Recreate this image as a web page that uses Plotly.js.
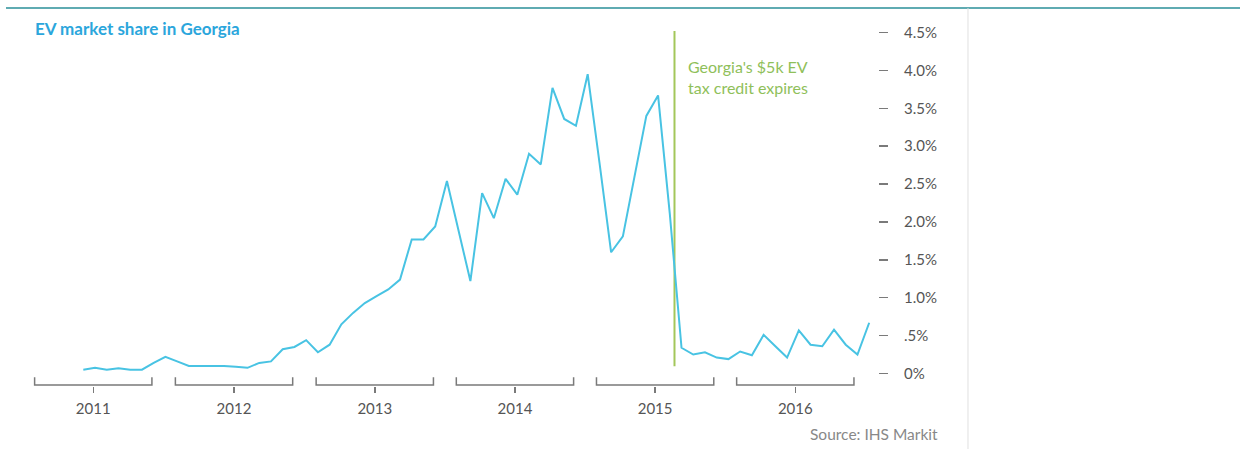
<!DOCTYPE html>
<html>
<head>
<meta charset="utf-8">
<script src="https://cdn.plot.ly/plotly-3.0.1.min.js"></script>
<style>
  html, body { margin: 0; padding: 0; background: #ffffff; }
  #chart { width: 1240px; height: 449px; }
</style>
</head>
<body>
<div id="chart"></div>
<script>
// Monthly EV market share in Georgia (percent), Apr 2011 – Nov 2016
const months = [
  "Apr 2011","May 2011","Jun 2011","Jul 2011","Aug 2011","Sep 2011","Oct 2011","Nov 2011","Dec 2011",
  "Jan 2012","Feb 2012","Mar 2012","Apr 2012","May 2012","Jun 2012","Jul 2012","Aug 2012","Sep 2012","Oct 2012","Nov 2012","Dec 2012",
  "Jan 2013","Feb 2013","Mar 2013","Apr 2013","May 2013","Jun 2013","Jul 2013","Aug 2013","Sep 2013","Oct 2013","Nov 2013","Dec 2013",
  "Jan 2014","Feb 2014","Mar 2014","Apr 2014","May 2014","Jun 2014","Jul 2014","Aug 2014","Sep 2014","Oct 2014","Nov 2014","Dec 2014",
  "Jan 2015","Feb 2015","Mar 2015","Apr 2015","May 2015","Jun 2015","Jul 2015","Aug 2015","Sep 2015","Oct 2015","Nov 2015","Dec 2015",
  "Jan 2016","Feb 2016","Mar 2016","Apr 2016","May 2016","Jun 2016","Jul 2016","Aug 2016","Sep 2016","Oct 2016","Nov 2016"
];
const evShare = [
  0.05, 0.075, 0.05, 0.07, 0.05, 0.05, 0.14, 0.22, 0.16,
  0.10, 0.10, 0.10, 0.10, 0.09, 0.075, 0.14, 0.16, 0.32, 0.35, 0.44, 0.28,
  0.38, 0.65, 0.80, 0.93, 1.02, 1.11, 1.24, 1.77, 1.77, 1.94, 2.54, 1.88,
  1.22, 2.38, 2.05, 2.57, 2.36, 2.90, 2.76, 3.77, 3.36, 3.27, 3.95, 2.79,
  1.60, 1.81, 2.59, 3.40, 3.67, 2.11, 0.34, 0.25, 0.28, 0.21, 0.19, 0.29,
  0.24, 0.51, 0.36, 0.21, 0.57, 0.38, 0.36, 0.58, 0.38, 0.25, 0.67
];
const years = ["2011", "2012", "2013", "2014", "2015", "2016"];
const yearCenters = [0.85, 12.85, 24.85, 36.8, 48.75, 60.7];   // month-index of each year label
const yearHalfSpan = 5.0;                                         // bracket half-width in months
const yTickVals = [0, 0.5, 1.0, 1.5, 2.0, 2.5, 3.0, 3.5, 4.0, 4.5];
const yTickText = ["0%", ".5%", "1.0%", "1.5%", "2.0%", "2.5%", "3.0%", "3.5%", "4.0%", "4.5%"];
const expiryIndex = 50.4;   // between Jun and Jul 2015
const expiryLabel = "Georgia's $5k EV<br>tax credit expires";
const titleText = "EV market share in Georgia";
const sourceText = "Source: IHS Markit";

const xIdx = months.map((m, i) => i);

const FONT = "Lato, 'Noto Sans', 'DejaVu Sans', sans-serif";
const GREY = "#7a7a7a";

const bracketY = -0.152, bracketTop = -0.05;
const shapes = yearCenters.map(c => ({
  type: "path", xref: "x", yref: "y",
  path: `M ${c - yearHalfSpan},${bracketTop} L ${c - yearHalfSpan},${bracketY} L ${c + yearHalfSpan},${bracketY} L ${c + yearHalfSpan},${bracketTop}`,
  line: { color: GREY, width: 1.5 }
}));
// expiry marker
shapes.push({
  type: "line", xref: "x", yref: "y",
  x0: expiryIndex, x1: expiryIndex, y0: 0.096, y1: 4.52,
  line: { color: "#a3c75a", width: 2 }, layer: "below"
});
// top teal rule
shapes.push({
  type: "line", xref: "paper", yref: "paper",
  x0: -0.0223, x1: 1.43, y0: 1.047, y1: 1.047,
  line: { color: "#2a8f99", width: 1.5 }
});
// right separator
shapes.push({
  type: "line", xref: "paper", yref: "paper",
  x0: 1.1055, x1: 1.1055, y0: 1.047, y1: -0.2,
  line: { color: "#e0e0e0", width: 1 }
});

const trace = {
  type: "scatter", mode: "lines",
  x: xIdx, y: evShare, text: months,
  hovertemplate: "%{text}: %{y:.2f}%<extra></extra>",
  line: { color: "#48c3e3", width: 2 }
};

const layout = {
  width: 1240, height: 449,
  margin: { l: 25, r: 362, t: 25.4, b: 62.5 },
  paper_bgcolor: "#ffffff", plot_bgcolor: "#ffffff",
  showlegend: false,
  font: { family: FONT, color: "#555" },
  title: {
    text: "<b>" + titleText + "</b>",
    font: { family: FONT, size: 17, color: "#2ba6dc" },
    x: 35 / 1240, xanchor: "left", xref: "container",
    y: 1 - 29 / 449, yanchor: "middle", yref: "container"
  },
  xaxis: {
    range: [-4.97, 67.75],
    tickvals: yearCenters, ticktext: years,
    ticks: "outside", ticklen: 6, tickwidth: 1.5, tickcolor: GREY,
    ticklabelstandoff: 3,
    showline: false, showgrid: false, zeroline: false,
    tickfont: { family: FONT, size: 15, color: "#555" },
    fixedrange: true
  },
  yaxis: {
    range: [-0.165, 4.6],
    side: "right",
    tickvals: yTickVals, ticktext: yTickText,
    ticks: "outside", ticklen: 9, tickwidth: 1.5, tickcolor: GREY,
    ticklabelstandoff: 13,
    showline: false, showgrid: false, zeroline: false,
    tickfont: { family: FONT, size: 15, color: "#555" },
    fixedrange: true
  },
  shapes: shapes,
  annotations: [
    {
      x: expiryIndex, y: 3.91, xref: "x", yref: "y",
      xanchor: "left", yanchor: "middle", xshift: 12, align: "left",
      text: expiryLabel, showarrow: false,
      font: { family: FONT, size: 16, color: "#8fc05a" }
    },
    {
      x: 1.073, y: -0.134, xref: "paper", yref: "paper",
      xanchor: "right", yanchor: "middle",
      text: sourceText, showarrow: false,
      font: { family: FONT, size: 15.5, color: "#888" }
    }
  ]
};

Plotly.newPlot("chart", [trace], layout, { displayModeBar: false, staticPlot: true });
</script>
</body>
</html>
